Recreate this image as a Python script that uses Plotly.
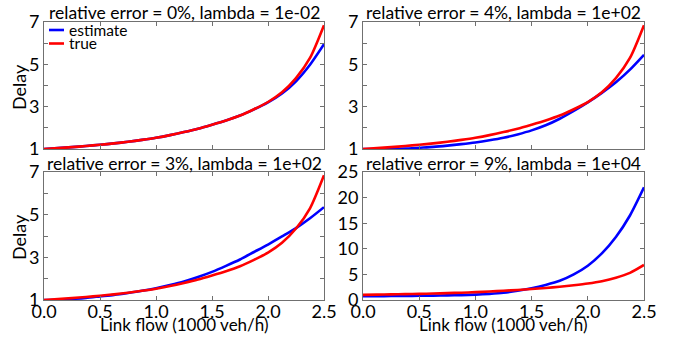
import plotly.graph_objects as go

# ---- data ----
FLOW = [0, 0.125, 0.25, 0.375, 0.5, 0.625, 0.75, 0.875, 1.0, 1.125, 1.25, 1.375,
        1.5, 1.625, 1.75, 1.875, 2.0, 2.125, 2.25, 2.375, 2.5]
TRUE_DELAY = [1.00, 1.045, 1.09, 1.14, 1.20, 1.265, 1.34, 1.43, 1.53, 1.655, 1.80, 1.96,
              2.15, 2.35, 2.58, 2.88, 3.22, 3.68, 4.35, 5.30, 6.85]
EST_ERR0_L1EM2 = [1.00, 1.045, 1.09, 1.14, 1.20, 1.265, 1.34, 1.43, 1.53, 1.655, 1.80, 1.96,
                  2.15, 2.35, 2.58, 2.87, 3.20, 3.62, 4.20, 4.98, 5.95]
EST_ERR4_L1E2 = [1.00, 1.00, 1.00, 1.02, 1.06, 1.10, 1.16, 1.23, 1.31, 1.41, 1.53, 1.69,
                 1.88, 2.12, 2.43, 2.80, 3.20, 3.65, 4.15, 4.75, 5.45]
EST_ERR3_L1E2 = [1.00, 1.01, 1.05, 1.10, 1.17, 1.24, 1.33, 1.43, 1.55, 1.70, 1.87, 2.08,
                 2.32, 2.60, 2.90, 3.25, 3.60, 3.98, 4.37, 4.83, 5.35]
EST_ERR9_L1E4 = [0.75, 0.76, 0.77, 0.79, 0.82, 0.86, 0.90, 0.96, 1.05, 1.20, 1.42, 1.80,
                 2.30, 2.95, 3.75, 5.00, 6.70, 9.10, 12.30, 16.50, 22.00]

TITLES = ["relative error = 0%, lambda = 1e-02",
          "relative error = 4%, lambda = 1e+02",
          "relative error = 3%, lambda = 1e+02",
          "relative error = 9%, lambda = 1e+04"]
ESTIMATES = [EST_ERR0_L1EM2, EST_ERR4_L1E2, EST_ERR3_L1E2, EST_ERR9_L1E4]

X_TICKS = [0, 0.5, 1.0, 1.5, 2.0, 2.5]
X_TICK_TEXT = ["0.0", "0.5", "1.0", "1.5", "2.0", "2.5"]
Y_TICKS_SMALL = [1, 2, 3, 4, 5, 6, 7]
Y_TICK_TEXT_SMALL = ["1", "", "3", "", "5", "", "7"]
Y_TICKS_BIG = [0, 5, 10, 15, 20, 25]

W, H = 679, 337
FONT = "Lato"
FRAME = "#707070"
BLUE = "#0000ff"
RED = "#ff0000"


def px(v):
    return v / W


def py(v):
    return 1 - v / H


# plot-area geometry (window pixels)
XDOM = [(44, 324), (363, 644)]
YDOM = [(22, 149), (172, 300)]

fig = go.Figure()
layout = {}
for i in range(4):
    r, c = divmod(i, 2)
    ax = "" if i == 0 else str(i + 1)
    x0, x1 = XDOM[c]
    y0, y1 = YDOM[r]
    big = (i == 3)
    fig.add_trace(go.Scatter(x=FLOW, y=ESTIMATES[i], mode="lines",
                             line=dict(color=BLUE, width=2.6, shape="spline", smoothing=0.7),
                             xaxis="x" + ax, yaxis="y" + ax, showlegend=False,
                             name="estimate"))
    fig.add_trace(go.Scatter(x=FLOW, y=TRUE_DELAY, mode="lines",
                             line=dict(color=RED, width=2.6, shape="spline", smoothing=0.7),
                             xaxis="x" + ax, yaxis="y" + ax, showlegend=False,
                             name="true"))
    layout["xaxis" + ax] = dict(
        domain=[px(x0), px(x1)], anchor="y" + ax, range=[0, 2.5], automargin=False,
        tickvals=X_TICKS, ticktext=X_TICK_TEXT, showticklabels=(r == 1),
        ticks="inside", ticklen=4, tickcolor=FRAME, showline=True, linecolor=FRAME,
        linewidth=1, mirror="ticks", showgrid=False, zeroline=False,
        tickfont=dict(size=18, color="black", family=FONT),
    )
    layout["yaxis" + ax] = dict(
        domain=[py(y1), py(y0)], anchor="x" + ax, automargin=False,
        range=[0, 25] if big else [1, 7],
        tickvals=Y_TICKS_BIG if big else Y_TICKS_SMALL,
        ticktext=[str(v) for v in Y_TICKS_BIG] if big else Y_TICK_TEXT_SMALL,
        ticks="inside", ticklen=4, tickcolor=FRAME, showline=True, linecolor=FRAME,
        linewidth=1, mirror="ticks", showgrid=False, zeroline=False,
        tickfont=dict(size=18, color="black", family=FONT),
    )

annotations = []
for i in range(4):
    r, c = divmod(i, 2)
    x0, x1 = XDOM[c]
    yc = [12, 163.5][r]
    annotations.append(dict(text=TITLES[i], xref="paper", yref="paper",
                            x=px((x0 + x1) / 2), y=py(yc),
                            xanchor="center", yanchor="middle", showarrow=False,
                            font=dict(size=17.5, family=FONT, color="black")))

# axis titles
for yc in (87, 237):
    annotations.append(dict(text="Delay", xref="paper", yref="paper", x=px(19), y=py(yc),
                            textangle=-90, xanchor="center", yanchor="middle", showarrow=False,
                            font=dict(size=18, family=FONT, color="black")))
for xc in (184, 503):
    annotations.append(dict(text="Link flow (1000 veh/h)", xref="paper", yref="paper",
                            x=px(xc), y=py(324), xanchor="center", yanchor="middle",
                            showarrow=False, font=dict(size=17, family=FONT, color="black")))

# legend (top-left panel)
shapes = []
for k, (lbl, col) in enumerate([("estimate", BLUE), ("true", RED)]):
    yc = 30 + 13.5 * k
    shapes.append(dict(type="line", xref="paper", yref="paper",
                       x0=px(49), x1=px(64), y0=py(yc), y1=py(yc),
                       line=dict(color=col, width=2.6)))
    annotations.append(dict(text=lbl, xref="paper", yref="paper",
                            x=px(67), y=py(yc), xanchor="left", yanchor="middle",
                            showarrow=False, font=dict(size=15.5, family=FONT, color="black")))

fig.update_layout(width=W, height=H, margin=dict(l=0, r=0, t=0, b=0),
                  paper_bgcolor="white", plot_bgcolor="white",
                  annotations=annotations, shapes=shapes,
                  font=dict(family=FONT, color="black"), **layout)
for ax in ("xaxis3", "xaxis4"):
    fig.layout[ax].ticklabelstandoff = -5
# remove the browser's default 8px body margin so the figure fills the window
fig.write_html("out.html", config={"displayModeBar": False},
               post_script="document.body.style.margin='0';")
